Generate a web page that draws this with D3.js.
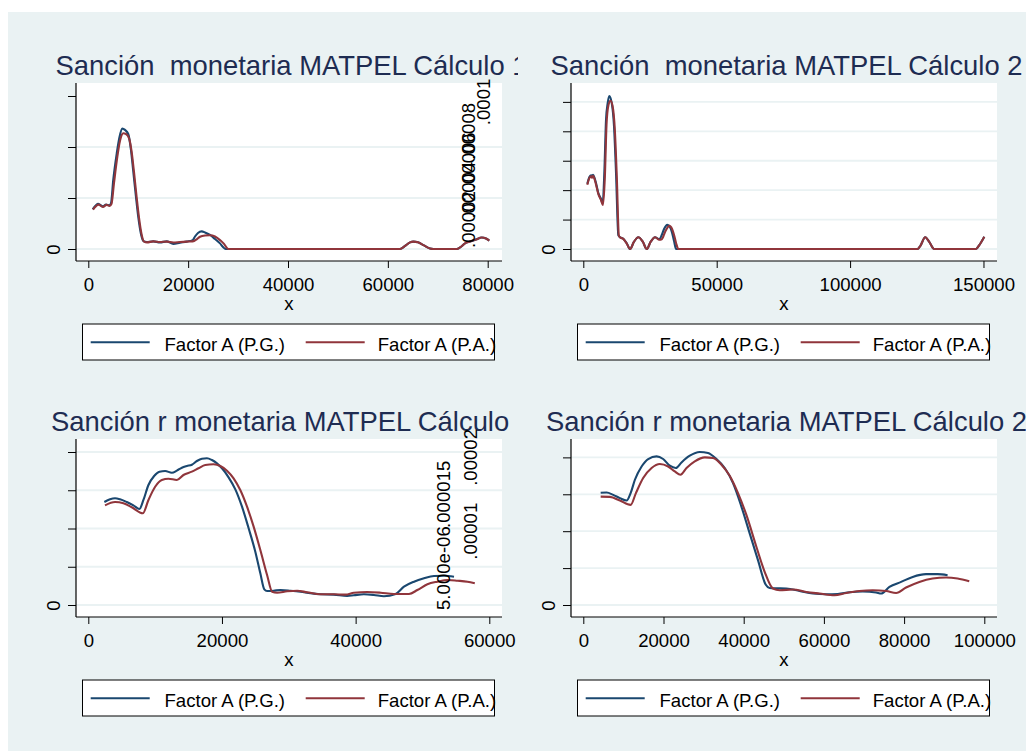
<!DOCTYPE html>
<html>
<head>
<meta charset="utf-8">
<script src="https://cdn.jsdelivr.net/npm/d3@7"></script>
<style>
  html, body { margin: 0; padding: 0; background: #ffffff; }
  svg { display: block; font-family: "Liberation Sans", Arial, Helvetica, sans-serif; }
</style>
</head>
<body>
<svg id="chart" width="1026" height="751"></svg>
<script>
// ---- titles, legend entries and axis ticks ----
const titles = [
  "Sanción  monetaria MATPEL Cálculo 1",
  "Sanción  monetaria MATPEL Cálculo 2",
  "Sanción r monetaria MATPEL Cálculo 1",
  "Sanción r monetaria MATPEL Cálculo 2"
];
const seriesNames = ["Factor A (P.G.)", "Factor A (P.A.)"];
const xAxisTitle = "x";

const xTicks1 = [0, 20000, 40000, 60000, 80000];
const xTicks2 = [0, 50000, 100000, 150000];
const xTicks3 = [0, 20000, 40000, 60000];
const xTicks4 = [0, 20000, 40000, 60000, 80000, 100000];

const yTicks1 = [0, 0.00002, 0.00004, 0.00006];
const yTicks2 = [0, 0.00002, 0.00004, 0.00006, 0.00008, 0.0001];
const yTicks3 = [0, 0.000005, 0.00001, 0.000015, 0.00002];
const yTicks4 = [0, 0.000005, 0.00001, 0.000015, 0.00002];

// y labels of the right-hand panels (they end up printed further left)
const yLabels2 = [".00002", ".00004", ".00006", ".00008", ".0001"];
const yLabels4 = ["5.000e-06", ".00001", ".000015", ".00002"];

// ---- kernel density estimates: [x, density] ----
const pg1 = [[900,1.56e-5],[2000,1.77e-5],[2900,1.67e-5],[3550,1.74e-5],[4200,1.71e-5],[4550,1.80e-5],
  [5000,2.71e-5],[5700,3.75e-5],[6250,4.39e-5],[6810,4.72e-5],[7350,4.67e-5],[8000,4.51e-5],[8550,3.88e-5],
  [9000,3.06e-5],[9550,2.04e-5],[10000,1.27e-5],[10550,5.9e-6],[11050,3.1e-6],[11700,2.75e-6],[13020,3.0e-6],
  [14360,2.6e-6],[15700,3.0e-6],[17030,2.0e-6],[18370,2.5e-6],[19710,2.9e-6],[20910,3.5e-6],[21370,4.9e-6],
  [21970,6.3e-6],[22710,6.9e-6],[23380,6.5e-6],[24380,5.5e-6],[25380,3.9e-6],[26380,2.2e-6],[26980,0.8e-6],
  [27480,0],[62430,0],[63440,1.2e-6],[64440,2.6e-6],[65100,2.9e-6],[66040,2.6e-6],[67250,1.4e-6],[68450,0.2e-6],
  [69110,0],[73790,0],[74460,0.6e-6],[75460,2.2e-6],[76460,2.9e-6],[77660,3.7e-6],[78800,4.5e-6],[79660,4.1e-6],
  [80320,3.3e-6]];
const pa1 = [[940,1.54e-5],[2040,1.74e-5],[2940,1.65e-5],[3650,1.73e-5],[4290,1.69e-5],[4650,1.77e-5],
  [5150,2.59e-5],[5810,3.61e-5],[6350,4.24e-5],[7010,4.54e-5],[7550,4.51e-5],[8150,4.35e-5],[8690,3.80e-5],
  [9150,3.02e-5],[9700,2.0e-5],[10160,1.22e-5],[10700,5.5e-6],[11160,2.9e-6],[11760,2.6e-6],[13020,3.0e-6],
  [14360,2.75e-6],[15700,2.9e-6],[17030,2.55e-6],[18370,2.75e-6],[19710,2.9e-6],[20910,3.0e-6],[21770,3.9e-6],
  [22370,4.8e-6],[23380,5.3e-6],[24380,5.4e-6],[25380,4.9e-6],[26380,3.5e-6],[27180,2.0e-6],[27680,0.6e-6],
  [28040,0],[62430,0],[63440,1.2e-6],[64440,2.6e-6],[65100,2.9e-6],[66040,2.6e-6],[67250,1.4e-6],[68450,0.2e-6],
  [69110,0],[73790,0],[74460,0.6e-6],[75460,2.2e-6],[76460,2.9e-6],[77660,3.7e-6],[78800,4.5e-6],[79660,4.1e-6],
  [80320,3.3e-6]];

const pg2 = [[1500,4.43e-5],[2330,4.91e-5],[2960,5.01e-5],[3260,4.91e-5],[3640,5.04e-5],[4200,4.84e-5],
  [4760,4.48e-5],[5630,3.80e-5],[6530,3.45e-5],[7280,3.11e-5],[7880,5.16e-5],[8520,8.79e-5],[9150,9.93e-5],
  [9750,1.04e-4],[10650,9.93e-5],[11520,8.33e-5],[12270,5.16e-5],[13130,9.5e-6],[13770,8.0e-6],[15000,7.0e-6],
  [16280,3.9e-6],[17520,0],[19020,5.0e-6],[20630,8.0e-6],[22280,5.0e-6],[23780,0],[25280,5.0e-6],[26900,8.0e-6],
  [28510,6.6e-6],[29410,9.5e-6],[30270,1.36e-5],[31510,1.64e-5],[32520,1.47e-5],[33160,1.18e-5],[34020,5.5e-6],
  [34770,0],[125260,0],[126300,2.0e-6],[128170,8.0e-6],[129670,4.8e-6],[131550,0],[147190,0],[148430,2.7e-6],
  [150310,8.4e-6]];
const pa2 = [[1500,4.36e-5],[2330,4.84e-5],[2960,4.94e-5],[3260,4.84e-5],[3640,4.97e-5],[4200,4.77e-5],
  [4760,4.39e-5],[5630,3.75e-5],[6530,3.37e-5],[7390,3.0e-5],[8070,4.84e-5],[8700,8.45e-5],[9380,9.74e-5],
  [10200,1.008e-4],[10950,9.74e-5],[11820,8.11e-5],[12570,4.84e-5],[13320,9.2e-6],[13770,7.9e-6],[15000,6.9e-6],
  [16280,3.7e-6],[17520,0],[19020,5.0e-6],[20630,8.0e-6],[22280,5.0e-6],[23780,0],[25280,5.0e-6],[26900,8.0e-6],
  [28510,6.3e-6],[29410,6.6e-6],[30650,1.16e-5],[32260,1.57e-5],[33270,1.36e-5],[34020,9.5e-6],[34770,4.1e-6],
  [35640,0],[125260,0],[126300,2.0e-6],[128170,8.0e-6],[129670,4.8e-6],[131550,0],[147190,0],[148430,2.7e-6],
  [150310,8.4e-6]];

const pg3 = [[2400,1.346e-5],[3250,1.382e-5],[4000,1.395e-5],[4750,1.382e-5],[5760,1.346e-5],[6750,1.303e-5],
  [7650,1.255e-5],[8250,1.373e-5],[9000,1.569e-5],[9850,1.686e-5],[10650,1.743e-5],[11500,1.752e-5],
  [12500,1.729e-5],[13250,1.756e-5],[14000,1.795e-5],[14750,1.817e-5],[15500,1.834e-5],[16250,1.882e-5],
  [17000,1.912e-5],[17750,1.918e-5],[18500,1.895e-5],[19250,1.852e-5],[20000,1.787e-5],[20990,1.669e-5],
  [22000,1.512e-5],[23000,1.285e-5],[23990,1.003e-5],[24990,6.97e-6],[25740,4.14e-6],[26340,2.05e-6],
  [26750,1.83e-6],[27740,1.87e-6],[28740,1.96e-6],[30240,1.87e-6],[31740,1.74e-6],[33240,1.53e-6],
  [34740,1.40e-6],[36730,1.35e-6],[38740,1.18e-6],[39730,1.27e-6],[41230,1.40e-6],[42730,1.31e-6],
  [44230,1.14e-6],[45980,1.44e-6],[47230,2.39e-6],[48730,3.05e-6],[50230,3.49e-6],[51730,3.79e-6],
  [53230,3.83e-6],[54720,3.70e-6]];
const pa3 = [[2500,1.303e-5],[4000,1.346e-5],[5250,1.329e-5],[6510,1.277e-5],[8160,1.199e-5],[9000,1.373e-5],
  [10000,1.546e-5],[11000,1.634e-5],[11990,1.651e-5],[13250,1.634e-5],[14240,1.699e-5],[15500,1.743e-5],
  [16490,1.787e-5],[17500,1.830e-5],[18740,1.839e-5],[19750,1.817e-5],[20750,1.756e-5],[21740,1.656e-5],
  [22740,1.503e-5],[23750,1.285e-5],[24740,1.024e-5],[25740,7.19e-6],[26750,3.92e-6],[27500,1.74e-6],
  [28250,1.61e-6],[29750,1.79e-6],[31250,1.87e-6],[32750,1.66e-6],[34740,1.40e-6],[36730,1.40e-6],
  [38490,1.35e-6],[39730,1.61e-6],[41740,1.70e-6],[43740,1.61e-6],[45730,1.44e-6],[47980,1.44e-6],
  [49240,1.96e-6],[50740,2.71e-6],[52240,3.05e-6],[53740,3.27e-6],[55230,3.18e-6],[56730,3.05e-6],
  [57830,2.84e-6]];

const pg4 = [[4330,1.520e-5],[5820,1.524e-5],[7470,1.492e-5],[9140,1.448e-5],[10800,1.415e-5],[11800,1.516e-5],
  [12870,1.697e-5],[14540,1.877e-5],[16180,1.978e-5],[18270,2.014e-5],[19910,1.978e-5],[21580,1.887e-5],
  [23070,1.856e-5],[24490,1.932e-5],[26560,2.023e-5],[29050,2.073e-5],[31110,2.060e-5],[33200,1.978e-5],
  [35270,1.856e-5],[37340,1.652e-5],[39430,1.333e-5],[41490,9.71e-6],[43560,6.08e-6],[45470,2.78e-6],
  [46470,2.31e-6],[48140,2.27e-6],[50630,2.23e-6],[53940,1.90e-6],[57250,1.55e-6],[60580,1.46e-6],
  [63470,1.50e-6],[66380,1.73e-6],[69690,1.82e-6],[73030,1.69e-6],[74270,1.55e-6],[76340,2.45e-6],
  [79250,3.13e-6],[82140,3.81e-6],[85470,4.18e-6],[88360,4.18e-6],[90850,4.04e-6]];
const pa4 = [[4330,1.469e-5],[6650,1.465e-5],[9140,1.415e-5],[11800,1.356e-5],[13120,1.516e-5],[14930,1.720e-5],
  [17030,1.856e-5],[19090,1.910e-5],[21160,1.877e-5],[22820,1.809e-5],[24240,1.765e-5],[25740,1.856e-5],
  [27800,1.946e-5],[30290,2.000e-5],[32360,1.992e-5],[34450,1.901e-5],[36510,1.751e-5],[38580,1.516e-5],
  [40670,1.220e-5],[43160,7.89e-6],[45230,4.49e-6],[47290,2.23e-6],[48960,2.00e-6],[52270,2.10e-6],
  [55600,1.77e-6],[58920,1.55e-6],[62650,1.32e-6],[65560,1.63e-6],[68870,1.90e-6],[72180,2.00e-6],
  [75520,1.90e-6],[78010,1.63e-6],[80490,2.37e-6],[83800,3.13e-6],[87120,3.59e-6],[90450,3.73e-6],
  [93340,3.59e-6],[96250,3.22e-6]];

// ---- look ----
const W = 1026, H = 751;
const COLORS = ["#1a476f", "#90353b"];
const BG = "#eaf2f3";
const TITLE_COLOR = "#1e2c52";
const FONT = 18.6;

const svg = d3.select("#chart");
svg.append("rect").attr("width", W).attr("height", H).attr("fill", "#ffffff");
svg.append("rect").attr("x", 8).attr("y", 12).attr("width", W - 8).attr("height", H - 12).attr("fill", BG);

// left column is cut off where the right column begins
svg.append("defs").append("clipPath").attr("id", "leftCol")
  .append("rect").attr("x", 0).attr("y", 0).attr("width", 518).attr("height", H);

const colDX = 495, rowDY = 356;
const base = { L: 76, R: 502, T: 83, B: 261 };

const panels = [
  { title: titles[0], xTicks: xTicks1, yTicks: yTicks1, grid: yTicks1.slice(0, 3), series: [pg1, pa1], col: 0, row: 0 },
  { title: titles[1], xTicks: xTicks2, yTicks: yTicks2, grid: yTicks2, series: [pg2, pa2], col: 1, row: 0,
    shifted: { labels: yLabels2, values: yTicks2.slice(1), dx: [-96, -96, -96, -96, -81] } },
  { title: titles[2], xTicks: xTicks3, yTicks: yTicks3, grid: yTicks3, series: [pg3, pa3], col: 0, row: 1 },
  { title: titles[3], xTicks: xTicks4, yTicks: yTicks4, grid: yTicks4, series: [pg4, pa4], col: 1, row: 1,
    shifted: { labels: yLabels4, values: yTicks4.slice(1), dx: [-121, -94, -121, -94] } }
];

const overlay = [];

panels.forEach(p => {
  const L = base.L + p.col * colDX, R = base.R + p.col * colDX;
  const T = base.T + p.row * rowDY, B = base.B + p.row * rowDY;

  const g = svg.append("g");
  if (p.col === 0) g.attr("clip-path", "url(#leftCol)");

  const allPts = p.series.flat();
  const xMax = Math.max(d3.max(p.xTicks), d3.max(allPts, d => d[0]));
  const yMax = Math.max(d3.max(p.yTicks), d3.max(allPts, d => d[1]));
  const x = d3.scaleLinear().domain([0, xMax]).range([L + 12.3, R - 12.7]);
  const y = d3.scaleLinear().domain([0, yMax]).range([B - 12, T + 13]);

  // title
  g.append("text")
    .attr("x", (L + R) / 2 + 2.5).attr("y", T - 8)
    .attr("text-anchor", "middle")
    .attr("font-size", 27.4).attr("fill", TITLE_COLOR)
    .style("white-space", "pre")
    .text(p.title);

  // plot region
  g.append("rect").attr("x", L).attr("y", T).attr("width", R - L).attr("height", B - T).attr("fill", "#ffffff");

  // grid lines
  g.append("g").selectAll("line").data(p.grid).join("line")
    .attr("x1", L).attr("x2", R)
    .attr("y1", d => y(d)).attr("y2", d => y(d))
    .attr("stroke", BG).attr("stroke-width", 1.8);

  // density curves
  const line = d3.line().x(d => x(d[0])).y(d => y(d[1])).curve(d3.curveMonotoneX);
  p.series.forEach((s, i) => {
    g.append("path").datum(s)
      .attr("d", line)
      .attr("fill", "none")
      .attr("stroke", COLORS[i])
      .attr("stroke-width", 2.1)
      .attr("stroke-linejoin", "round");
  });

  // x axis
  const xAxis = g.append("g").attr("transform", `translate(0,${B})`)
    .call(d3.axisBottom(x).tickValues(p.xTicks).tickFormat(d3.format("d"))
      .tickSize(7).tickSizeOuter(0).tickPadding(9.5));
  xAxis.select(".domain").remove();
  xAxis.selectAll(".tick line").attr("stroke", "#000").attr("stroke-width", 1);
  xAxis.selectAll(".tick text").attr("font-size", FONT).attr("fill", "#000")
    .attr("font-family", "Liberation Sans, Arial, sans-serif");

  // y axis: only zero is labelled, written vertically
  const yAxis = g.append("g").attr("transform", `translate(${L},0)`)
    .call(d3.axisLeft(y).tickValues(p.yTicks).tickFormat(d => d === 0 ? "0" : "")
      .tickSize(8).tickSizeOuter(0));
  yAxis.select(".domain").remove();
  yAxis.selectAll(".tick line").attr("stroke", "#000").attr("stroke-width", 1);
  yAxis.selectAll(".tick text")
    .attr("transform", "rotate(-90)")
    .attr("x", 0).attr("y", -16.5).attr("dy", 0)
    .attr("text-anchor", "middle")
    .attr("font-size", FONT).attr("fill", "#000")
    .attr("font-family", "Liberation Sans, Arial, sans-serif");

  // axis lines along the plot region edges
  g.append("line").attr("x1", L).attr("x2", L).attr("y1", T).attr("y2", B)
    .attr("stroke", "#000").attr("stroke-width", 1.2);
  g.append("line").attr("x1", L).attr("x2", R).attr("y1", B).attr("y2", B)
    .attr("stroke", "#000").attr("stroke-width", 1.2);

  // x axis title
  g.append("text").attr("x", (L + R) / 2).attr("y", B + 48.5)
    .attr("text-anchor", "middle").attr("font-size", FONT).attr("fill", "#000")
    .text(xAxisTitle);

  // legend
  const ly = B + 63;
  const leg = g.append("g");
  leg.append("rect").attr("x", L + 6.5).attr("y", ly).attr("width", 412).attr("height", 36)
    .attr("fill", "#ffffff").attr("stroke", "#000").attr("stroke-width", 1);
  const keyX = [L + 14.7, L + 229.7];
  const textX = [L + 88.5, L + 301.7];
  seriesNames.forEach((name, i) => {
    leg.append("line").attr("x1", keyX[i]).attr("x2", keyX[i] + 59)
      .attr("y1", ly + 18.3).attr("y2", ly + 18.3)
      .attr("stroke", COLORS[i]).attr("stroke-width", 2);
    leg.append("text").attr("x", textX[i]).attr("y", ly + 26.7)
      .attr("font-size", FONT).attr("fill", "#000").text(name);
  });

  if (p.shifted) overlay.push({ p, y, L });
});

// y labels of the right panels, printed vertically over the left panels
overlay.forEach(({ p, y, L }) => {
  const s = p.shifted;
  svg.append("g").selectAll("text").data(s.values).join("text")
    .attr("transform", (d, i) => `translate(${L + s.dx[i]},${y(d)}) rotate(-90)`)
    .attr("text-anchor", "middle")
    .attr("font-size", FONT).attr("fill", "#000")
    .text((d, i) => s.labels[i]);
});
</script>
</body>
</html>
